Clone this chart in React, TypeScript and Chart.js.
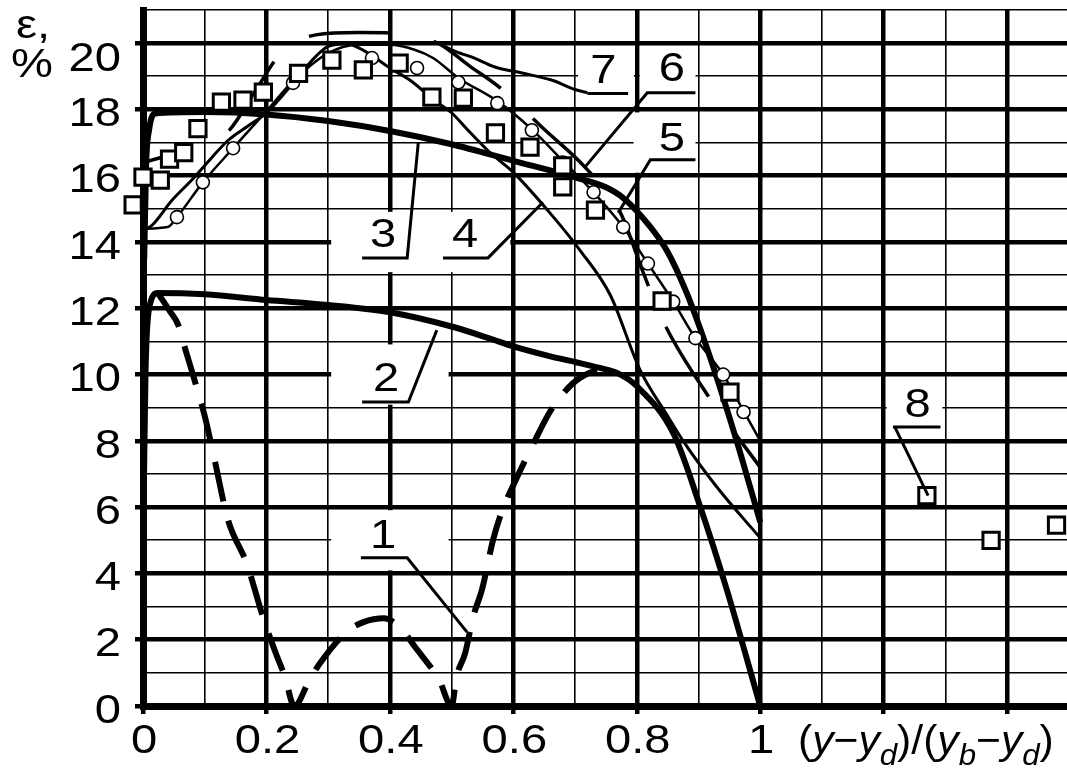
import React, { useEffect, useRef } from 'react';
import { Chart, registerables } from 'chart.js';

Chart.register(...registerables);

type P = [number, number];

// ---- tick labels ----
const xTickValues = [0, 0.2, 0.4, 0.6, 0.8, 1];
const xTickLabels = ['0', '0.2', '0.4', '0.6', '0.8', '1'];
const yTickValues = [0, 2, 4, 6, 8, 10, 12, 14, 16, 18, 20];
const yTickLabels = ['0', '2', '4', '6', '8', '10', '12', '14', '16', '18', '20'];

// ---- series (x = (y-yd)/(yb-yd), y = epsilon %) ----
const curve1: P[] = [
  [0.024, 12.46], [0.044, 11.9], [0.057, 11.5], [0.068, 10.8], [0.084, 9.8], [0.1, 8.75],
  [0.114, 7.6], [0.138, 5.6], [0.168, 4.3], [0.195, 2.65], [0.215, 1.6], [0.23, 0.88],
  [0.245, 0], [0.27, 0.8], [0.287, 1.3], [0.33, 2.24], [0.357, 2.53], [0.39, 2.65],
  [0.42, 2.3], [0.44, 1.8], [0.48, 0.78], [0.5, 0], [0.508, 0.88], [0.522, 1.6],
  [0.535, 2.7], [0.549, 3.5], [0.567, 5.0], [0.58, 5.8], [0.606, 6.9], [0.632, 7.9],
  [0.66, 8.9], [0.684, 9.5], [0.708, 9.9], [0.74, 10.12], [0.768, 10.08],
];
const curve2: P[] = [
  [0.001, 6], [0.004, 10], [0.01, 12], [0.024, 12.46], [0.1, 12.42], [0.2, 12.25],
  [0.3, 12.1], [0.4, 11.88], [0.5, 11.45], [0.56, 11.1], [0.6, 10.85], [0.66, 10.55],
  [0.7, 10.38], [0.74, 10.2], [0.768, 10.05], [0.8, 9.65], [0.86, 8.2], [0.903, 6.0],
  [0.946, 3.5], [1.0, 0],
];
const curve3: P[] = [
  [0.002, 13.5], [0.005, 16.3], [0.01, 17.4], [0.02, 17.88], [0.1, 17.92], [0.2, 17.85],
  [0.3, 17.65], [0.4, 17.35], [0.5, 16.95], [0.6, 16.45], [0.7, 15.95], [0.75, 15.65],
  [0.78, 15.3], [0.82, 14.5], [0.85, 13.7], [0.88, 12.5], [0.91, 11.0], [0.935, 9.6],
  [0.965, 7.8], [1.0, 5.55],
];
const curve4: P[] = [
  [0, 14.4], [0.011, 14.45], [0.047, 15.26], [0.079, 15.87], [0.112, 16.56], [0.138, 17.07],
  [0.17, 17.5], [0.2, 17.9], [0.25, 18.95], [0.28, 19.6], [0.3, 19.9], [0.33, 19.98],
  [0.36, 19.75], [0.4, 19.25], [0.435, 18.85], [0.47, 18.3], [0.5, 17.9], [0.525, 17.4],
  [0.562, 16.7], [0.6, 16.1], [0.665, 14.75], [0.708, 13.75], [0.757, 12.4], [0.805, 10.15],
  [0.85, 8.75], [0.875, 8.0], [0.93, 6.6], [1.0, 5.07],
];
const curve5: P[] = [
  [0, 14.4], [0.04, 14.45], [0.055, 14.75], [0.097, 15.8], [0.146, 16.83], [0.2, 17.95],
  [0.243, 18.85], [0.3, 19.7], [0.35, 19.95], [0.4, 19.95], [0.44, 19.8], [0.47, 19.55],
  [0.511, 18.95], [0.574, 18.25], [0.63, 17.4], [0.68, 16.45], [0.73, 15.5], [0.778, 14.45],
  [0.818, 13.35], [0.859, 12.2], [0.895, 11.1], [0.94, 10.0], [0.973, 8.9], [1.0, 8.0],
];
const circles5: P[] = [
  [0.055, 14.75], [0.097, 15.8], [0.146, 16.83], [0.243, 18.8], [0.371, 19.55], [0.444, 19.25],
  [0.511, 18.82], [0.574, 18.19], [0.63, 17.37], [0.68, 16.4], [0.73, 15.5], [0.778, 14.45],
  [0.818, 13.35], [0.859, 12.2], [0.895, 11.1], [0.94, 10.0], [0.973, 8.87],
];
const curve6: P[] = [
  [0, 16.4], [0.05, 16.65], [0.1, 16.9], [0.141, 17.4], [0.18, 18.5], [0.219, 19.6],
  [0.25, 20.05], [0.28, 20.25], [0.35, 20.32], [0.41, 20.3], [0.45, 20.15], [0.478, 20.0],
  [0.53, 19.3], [0.582, 18.6], [0.65, 17.4], [0.716, 16.26], [0.773, 14.9], [0.81, 13.1],
  [0.843, 11.6], [0.914, 9.4], [1.0, 7.2],
];
const curve7: P[] = [
  [0.478, 20.0], [0.51, 19.72], [0.533, 19.58], [0.57, 19.28], [0.614, 19.1],
  [0.663, 18.88], [0.7, 18.6], [0.72, 18.5],
];
const squares8: P[] = [
  [-0.016, 15.12], [0.0, 15.96], [0.028, 15.87], [0.043, 16.5], [0.066, 16.7], [0.089, 17.42],
  [0.127, 18.22], [0.162, 18.28], [0.195, 18.52], [0.252, 19.09], [0.306, 19.49], [0.357, 19.19],
  [0.415, 19.4], [0.468, 18.37], [0.519, 18.34], [0.571, 17.29], [0.627, 16.86], [0.68, 16.3],
  [0.68, 15.66], [0.733, 14.96], [0.841, 12.22], [0.951, 9.47], [1.27, 6.35], [1.374, 5.0],
  [1.48, 5.46],
];

// ---- annotation layout (label numbers, leader lines, white label boxes) ----
const curveLabels: { text: string; at: P; leader: P[] }[] = [
  { text: '1', at: [0.389, 5.2], leader: [[0.353, 4.47], [0.428, 4.47], [0.525, 2.23]] },
  { text: '2', at: [0.394, 9.95], leader: [[0.355, 9.17], [0.43, 9.17], [0.476, 11.34]] },
  { text: '3', at: [0.389, 14.3], leader: [[0.355, 13.52], [0.428, 13.52], [0.446, 17.0]] },
  { text: '4', at: [0.522, 14.3], leader: [[0.486, 13.52], [0.559, 13.52], [0.648, 15.2]] },
  { text: '5', at: [0.857, 17.2], leader: [[0.895, 16.48], [0.822, 16.48], [0.77, 14.88]] },
  { text: '6', at: [0.857, 19.3], leader: [[0.895, 18.5], [0.817, 18.5], [0.716, 16.26]] },
  { text: '7', at: [0.746, 19.25], leader: [[0.786, 18.48], [0.72, 18.48]] },
  { text: '8', at: [1.255, 9.17], leader: [[1.292, 8.42], [1.215, 8.42], [1.218, 8.42], [1.272, 6.35]] },
];
const labelBoxes: [number, number, number, number][] = [
  [0.3, 0.5, 4, 6], [0.3, 0.5, 9, 11], [0.3, 0.6, 13, 15],
  [0.7, 0.8, 18, 20], [0.8, 0.9, 18, 20], [0.79, 0.9, 16, 18], [1.2, 1.3, 8, 10],
];

const W = 1067;
const H = 769;
const FAMILY = '"Liberation Sans", Arial, Helvetica, sans-serif';
const FS = 41;
const SX = 1.15;
const SX_TITLE = 1.04;

function txt(ctx: CanvasRenderingContext2D, s: string, x: number, y: number, align: CanvasTextAlign, size = FS, italic = false, sx = SX) {
  ctx.save();
  ctx.translate(x, y);
  ctx.scale(sx, 1);
  ctx.font = `${italic ? 'italic ' : ''}${size}px ${FAMILY}`;
  ctx.textAlign = align;
  ctx.textBaseline = 'alphabetic';
  ctx.fillStyle = '#000';
  ctx.fillText(s, 0, 0);
  ctx.restore();
}
function advance(ctx: CanvasRenderingContext2D, s: string, size: number, italic: boolean, sx: number) {
  ctx.save();
  ctx.font = `${italic ? 'italic ' : ''}${size}px ${FAMILY}`;
  const w = ctx.measureText(s).width * sx;
  ctx.restore();
  return w;
}

const annotPlugin = {
  id: 'annot',
  beforeDatasetsDraw(chart: any) {
    const { ctx } = chart;
    const xs = chart.scales.x;
    const ys = chart.scales.y;
    ctx.save();
    ctx.fillStyle = '#fff';
    for (const [x0, x1, y0, y1] of labelBoxes) {
      const px0 = xs.getPixelForValue(x0) + 3;
      const px1 = xs.getPixelForValue(x1) - 3;
      const py0 = ys.getPixelForValue(y1) + 3;
      const py1 = ys.getPixelForValue(y0) - 3;
      ctx.fillRect(px0, py0, px1 - px0, py1 - py0);
    }
    ctx.restore();
  },
  afterDatasetsDraw(chart: any) {
    const { ctx } = chart;
    const xs = chart.scales.x;
    const ys = chart.scales.y;
    ctx.save();
    ctx.strokeStyle = '#000';
    ctx.lineWidth = 3;
    ctx.lineJoin = 'miter';
    ctx.setLineDash([]);
    for (const lab of curveLabels) {
      ctx.beginPath();
      lab.leader.forEach((p, i) => {
        const px = xs.getPixelForValue(p[0]);
        const py = ys.getPixelForValue(p[1]);
        if (i === 0) ctx.moveTo(px, py); else ctx.lineTo(px, py);
      });
      ctx.stroke();
      txt(ctx, lab.text, xs.getPixelForValue(lab.at[0]), ys.getPixelForValue(lab.at[1]) + 0.358 * FS, 'center');
    }
    ctx.restore();
  },
  afterDraw(chart: any) {
    const { ctx } = chart;
    const xs = chart.scales.x;
    const ys = chart.scales.y;
    xTickValues.forEach((v, i) => {
      txt(ctx, xTickLabels[i], xs.getPixelForValue(v) + 1, 738 + 0.358 * FS, 'center');
    });
    yTickValues.forEach((v, i) => {
      const off = v === 20 ? 13 : 2;
      txt(ctx, yTickLabels[i], 121, ys.getPixelForValue(v) + off + 0.358 * FS, 'right');
    });
    txt(ctx, 'ε,', 16, 38, 'left');
    txt(ctx, '%', 11, 77, 'left');
    const parts: { t: string; it?: boolean; sub?: boolean }[] = [
      { t: '(' }, { t: 'y', it: true }, { t: '−' }, { t: 'y', it: true }, { t: 'd', it: true, sub: true },
      { t: ')/(' }, { t: 'y', it: true }, { t: 'b', it: true, sub: true }, { t: '−' },
      { t: 'y', it: true }, { t: 'd', it: true, sub: true }, { t: ')' },
    ];
    let cx = 798;
    const base = 754;
    for (const p of parts) {
      const size = p.sub ? Math.round(FS * 0.72) : FS;
      const y = p.sub ? base + 11 : base;
      txt(ctx, p.t, cx, y, 'left', size, !!p.it, SX_TITLE);
      cx += advance(ctx, p.t, size, !!p.it, SX_TITLE);
    }
  },
};

const isMajorX = (v: number) => Math.round(v * 10) % 2 === 0;
const isMajorY = (v: number) => Math.round(v) % 2 === 0;

function line(data: P[], width: number, dash: number[] = [], dashOffset = 0) {
  return {
    data: data.map(([x, y]) => ({ x, y })),
    showLine: true,
    borderColor: '#000',
    borderWidth: width,
    borderDash: dash,
    borderDashOffset: dashOffset,
    borderCapStyle: 'butt',
    pointRadius: 0,
    pointHoverRadius: 0,
    fill: false,
    cubicInterpolationMode: 'monotone',
  };
}

export default function App() {
  const ref = useRef<HTMLCanvasElement | null>(null);
  useEffect(() => {
    if (!ref.current) return;
    const chart = new Chart(ref.current, {
      type: 'scatter',
      data: {
        datasets: [
          {
            data: squares8.map(([x, y]) => ({ x, y })),
            showLine: false,
            pointStyle: 'rect',
            pointRadius: 11.5,
            pointBorderWidth: 3,
            pointBackgroundColor: '#fff',
            pointBorderColor: '#000',
            clip: false,
          },
          {
            data: circles5.map(([x, y]) => ({ x, y })),
            showLine: false,
            pointStyle: 'circle',
            pointRadius: 6.5,
            pointBorderWidth: 1.6,
            pointBackgroundColor: '#fff',
            pointBorderColor: '#000',
          },
          line(curve7, 3),
          line(curve6, 3.5, [82, 44], 33),
          line(curve5, 2.5),
          line(curve4, 3),
          line(curve3, 6),
          line(curve2, 6),
          line(curve1, 6, [40, 20]),
        ] as any,
      },
      options: {
        responsive: false,
        animation: false,
        devicePixelRatio: 1,
        layout: { autoPadding: false, padding: { top: 10, left: 0, right: 0, bottom: 0 } },
        plugins: { legend: { display: false }, tooltip: { enabled: false } },
        scales: {
          x: {
            type: 'linear',
            min: 0,
            max: 1.497,
            afterFit: (s: any) => { s.height = 63; s.paddingLeft = 0; s.paddingRight = 0; },
            ticks: { display: false, stepSize: 0.1, includeBounds: false },
            grid: {
              color: '#000',
              lineWidth: (c: any) => (isMajorX(c.tick.value) ? 4.5 : 1.6),
              drawTicks: true,
              tickLength: 8,
              tickWidth: (c: any) => (isMajorX(c.tick.value) ? 4.5 : 0),
              tickColor: (c: any) => (isMajorX(c.tick.value) ? '#000' : 'rgba(0,0,0,0)'),
            },
            border: { display: true, width: 7, color: '#000' },
          },
          y: {
            type: 'linear',
            min: 0,
            max: 21,
            afterFit: (s: any) => { s.width = 143; s.paddingTop = 0; s.paddingBottom = 0; },
            ticks: { display: false, stepSize: 1, includeBounds: false },
            grid: {
              color: '#000',
              lineWidth: (c: any) => (isMajorY(c.tick.value) ? 4.5 : 1.6),
              drawTicks: true,
              tickLength: 8,
              tickWidth: (c: any) => (isMajorY(c.tick.value) ? 4.5 : 0),
              tickColor: (c: any) => (isMajorY(c.tick.value) ? '#000' : 'rgba(0,0,0,0)'),
            },
            border: { display: true, width: 7, color: '#000' },
          },
        },
      } as any,
      plugins: [annotPlugin as any],
    });
    return () => chart.destroy();
  }, []);
  return (
    <div style={{ position: 'fixed', left: 0, top: 0, width: W, height: H, background: '#fff' }}>
      <canvas ref={ref} width={W} height={H} style={{ display: 'block', width: W, height: H }} />
    </div>
  );
}
